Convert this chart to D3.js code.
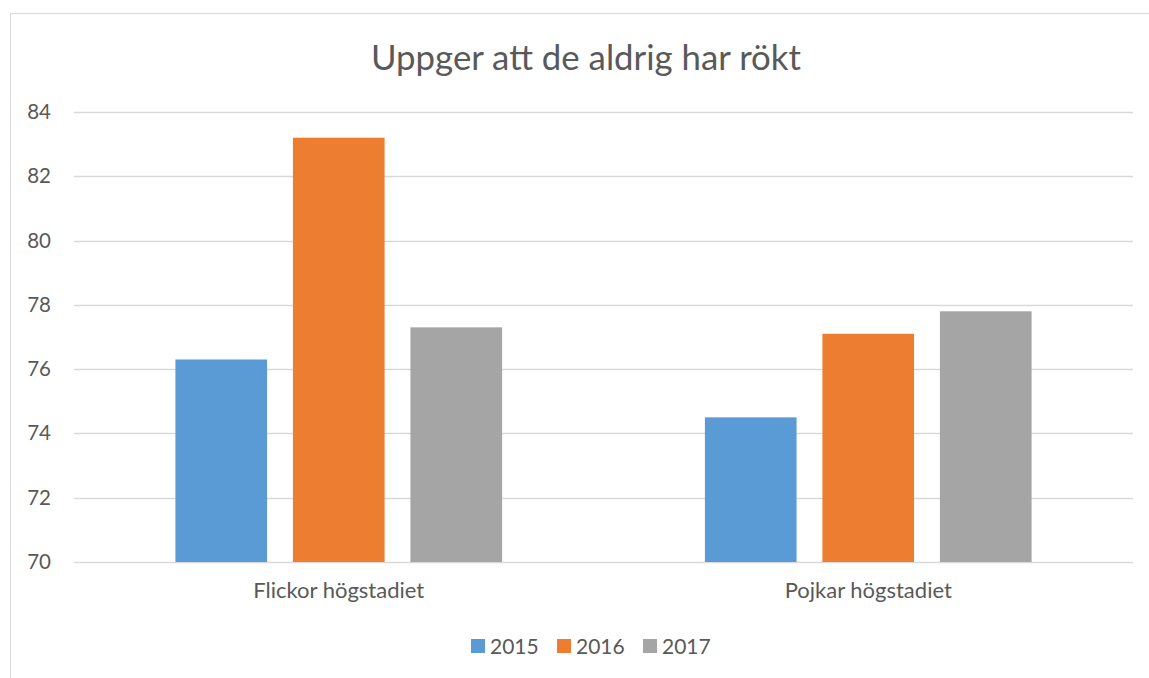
<!DOCTYPE html>
<html>
<head>
<meta charset="utf-8">
<script src="https://cdn.jsdelivr.net/npm/d3@7"></script>
<style>
  body { margin: 0; background: #fff; }
  text { font-family: Lato, "Open Sans", sans-serif; fill: #595959; }
</style>
</head>
<body>
<svg id="chart" width="1149" height="678"></svg>
<script>
// values
var categories = ["Flickor högstadiet", "Pojkar högstadiet"];
var years = ["2015", "2016", "2017"];
var values2015 = [76.3, 74.5];
var values2016 = [83.2, 77.1];
var values2017 = [77.3, 77.8];
var yTicks = [70, 72, 74, 76, 78, 80, 82, 84];
var colors = ["#5B9BD5", "#ED7D31", "#A5A5A5"];

var series = [values2015, values2016, values2017];

var svg = d3.select("#chart");

// chart frame (only left/top visible in the reference)
svg.append("rect")
   .attr("x", 10.5).attr("y", 13.5)
   .attr("width", 1160).attr("height", 700)
   .attr("fill", "none").attr("stroke", "#d9d9d9").attr("stroke-width", 1);

var plotLeft = 74, plotRight = 1133, plotTop = 112, plotBottom = 562;

var y = d3.scaleLinear().domain([70, 84]).range([plotBottom, plotTop]);
var x0 = d3.scaleBand().domain(categories).range([plotLeft, plotRight]);
var x1 = d3.scaleBand().domain(years).range([0, x0.bandwidth()])
           .paddingInner(0.22).paddingOuter(0.863);

// gridlines
svg.append("g").selectAll("line")
   .data(yTicks)
   .enter().append("line")
   .attr("x1", plotLeft).attr("x2", plotRight)
   .attr("y1", function(d) { return Math.round(y(d)) + 0.5; })
   .attr("y2", function(d) { return Math.round(y(d)) + 0.5; })
   .attr("stroke", "#d9d9d9").attr("stroke-width", 1.3);

// y axis labels
var yAxis = d3.axisLeft(y).tickValues(yTicks).tickSize(0).tickPadding(23);
var ya = svg.append("g").attr("transform", "translate(" + plotLeft + ",0)").call(yAxis);
ya.select(".domain").remove();
ya.selectAll("text").style("font-size", "20.5px").attr("fill", "#595959");

// bars
var groups = svg.append("g").selectAll("g")
   .data(categories)
   .enter().append("g")
   .attr("transform", function(d) { return "translate(" + x0(d) + ",0)"; });

groups.selectAll("rect")
   .data(function(d, i) {
     return years.map(function(yr, j) { return { year: yr, value: series[j][i], k: j }; });
   })
   .enter().append("rect")
   .attr("x", function(d) { return x1(d.year); })
   .attr("width", x1.bandwidth())
   .attr("y", function(d) { return y(d.value); })
   .attr("height", function(d) { return plotBottom - y(d.value); })
   .attr("fill", function(d) { return colors[d.k]; });

// x axis labels
var xAxis = d3.axisBottom(x0).tickSize(0).tickPadding(20);
var xa = svg.append("g").attr("transform", "translate(0," + plotBottom + ")").call(xAxis);
xa.select(".domain").remove();
xa.selectAll("text").style("font-size", "22px").attr("fill", "#595959");

// title
svg.append("text")
   .attr("x", 586).attr("y", 70)
   .attr("text-anchor", "middle")
   .style("font-size", "34.8px")
   .text("Uppger att de aldrig har rökt");

// legend
var legendX = [471, 557, 643];
var legend = svg.append("g").selectAll("g")
   .data(years)
   .enter().append("g")
   .attr("transform", function(d, i) { return "translate(" + legendX[i] + ",639)"; });
legend.append("rect")
   .attr("width", 14).attr("height", 14)
   .attr("fill", function(d, i) { return colors[i]; });
legend.append("text")
   .attr("x", 19).attr("y", 14.5)
   .style("font-size", "21px")
   .text(function(d) { return d; });
</script>
</body>
</html>
